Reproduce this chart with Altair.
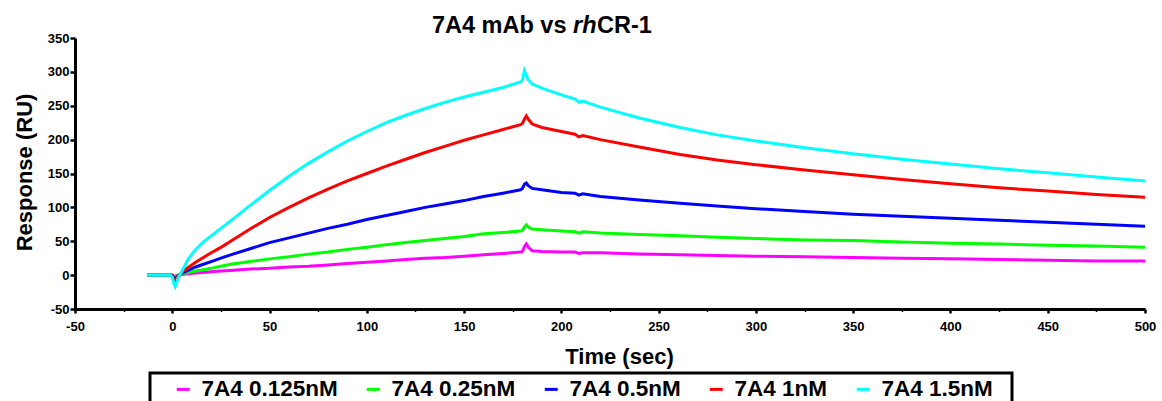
import altair as alt
import pandas as pd

# Sensorgram sample times (s): baseline, injection, association (to 180 s), dissociation
time_s = [-13, -6, -1, 0, 1, 1.5, 2, 3, 5, 8,
          12, 16, 20, 25, 30, 40, 50, 60, 70, 80,
          90, 100, 110, 120, 130, 140, 150, 160, 170, 179,
          180, 181, 182, 183, 185, 190, 200, 207, 209, 211,
          220, 240, 261, 280, 300, 325, 350, 375, 400, 425,
          450, 475, 500]

series_names = ["7A4 0.125nM", "7A4 0.25nM", "7A4 0.5nM", "7A4 1nM", "7A4 1.5nM"]
series_colors = ["#FF00FF", "#00FF00", "#0000FF", "#FF0000", "#00FFFF"]

# Response (RU) for each concentration
resp_0125 = [0, 0, 0, 0, -2, -3, -1, 0, 1, 2,
             3, 4, 5, 6, 7, 9, 10, 12, 13, 15,
             17, 19, 21, 23, 25, 26, 28, 30, 32, 34,
             35, 42, 46, 41, 36, 35, 34, 34, 32, 33,
             33, 31, 30, 29, 28, 27, 26, 25, 24, 23,
             22, 21, 21]
resp_025 = [0, 0, 0, 0, -3, -4, -2, 0, 2, 4,
            6, 8, 10, 13, 16, 20, 24, 27, 31, 34,
            38, 41, 45, 48, 51, 54, 57, 61, 63, 65,
            66, 71, 74, 71, 68, 67, 65, 64, 62, 64,
            62, 60, 58, 56, 54, 52, 51, 49, 47, 46,
            44, 43, 41]
resp_05 = [0, 0, 0, 0, -5, -6, -4, -1, 3, 7,
           12, 16, 20, 25, 30, 39, 48, 55, 62, 69,
           75, 82, 88, 94, 100, 105, 110, 116, 121, 126,
           128, 134, 136, 132, 128, 126, 122, 121, 118, 120,
           116, 111, 106, 102, 98, 94, 90, 87, 84, 81,
           78, 75, 72]
resp_1 = [0, 0, 0, -1, -8, -10, -7, -2, 4, 11,
          19, 26, 33, 41, 50, 68, 85, 100, 114, 127,
          139, 150, 161, 171, 181, 190, 199, 207, 215, 222,
          224, 230, 235, 230, 223, 218, 212, 208, 204, 206,
          200, 189, 178, 170, 163, 155, 148, 141, 135, 129,
          124, 119, 115]
resp_15 = [0, 0, 0, -3, -14, -17, -13, -4, 6, 23,
           38, 49, 58, 69, 80, 103, 125, 146, 165, 182,
           198, 212, 225, 236, 246, 255, 263, 270, 277, 285,
           288, 302, 295, 288, 282, 276, 266, 260, 255, 257,
           248, 232, 218, 207, 198, 188, 179, 171, 164, 157,
           151, 145, 139]

x_ticks = list(range(-50, 501, 25))
y_ticks = list(range(-50, 351, 50))

FONT = "Liberation Sans, Arial, sans-serif"

rows = []
for name, values in zip(series_names, [resp_0125, resp_025, resp_05, resp_1, resp_15]):
    for t, v in zip(time_s, values):
        rows.append({"time": t, "response": v, "series": name})
df = pd.DataFrame(rows)

x_axis = alt.Axis(
    values=x_ticks,
    labelExpr="datum.value % 50 === 0 ? '' + datum.value : ''",
    title="Time (sec)",
    titleFont=FONT, titleFontSize=22, titleFontWeight="bold",
    titleX=544, titleY=54, titleBaseline="alphabetic", titleAlign="center",
    labelFont=FONT, labelFontSize=13, labelFontWeight="bold", labelColor="black",
    labelPadding=7, labelFlush=False, labelOverlap=False,
    domainColor="black", domainWidth=3,
    tickColor="black",
    tickSize={"condition": {"test": "datum.value % 50 === 0", "value": 4}, "value": 2.5},
    tickWidth={"condition": {"test": "datum.value % 50 === 0", "value": 2.5}, "value": 1.5},
    grid=False,
)

y_axis = alt.Axis(
    values=y_ticks,
    labelExpr="'' + datum.value",
    title="Response (RU)",
    titleFont=FONT, titleFontSize=22, titleFontWeight="bold",
    titleX=-44, titleY=134, titleAngle=270, titleBaseline="alphabetic", titleAlign="center",
    labelFont=FONT, labelFontSize=13, labelFontWeight="bold", labelColor="black",
    labelPadding=1, labelFlush=False, labelOverlap=False,
    domainColor="black", domainWidth=3,
    tickColor="black", tickSize=5, tickWidth=2.5,
    grid=False,
)

legend = alt.Legend(
    title=None, orient="none", legendX=97, legendY=340,
    direction="horizontal", columns=5,
    symbolType="stroke", symbolSize=169, symbolStrokeWidth=3,
    labelFont=FONT, labelFontSize=22.5, labelFontWeight="bold", labelColor="black",
    labelOffset=7, labelLimit=400, columnPadding=22, padding=0,
)

lines = alt.Chart(df).mark_line(strokeWidth=3).encode(
    x=alt.X("time:Q", scale=alt.Scale(domain=[-50, 500], nice=False, zero=False), axis=x_axis),
    y=alt.Y("response:Q", scale=alt.Scale(domain=[-50, 350], nice=False), axis=y_axis),
    color=alt.Color("series:N", sort=series_names,
                    scale=alt.Scale(domain=series_names, range=series_colors),
                    legend=legend),
)

one = pd.DataFrame({"k": [0]})

# Legend frame
frame = alt.Chart(one).mark_rect(filled=False, stroke="black", strokeWidth=3).encode(
    x=alt.value(75), x2=alt.value(937), y=alt.value(335), y2=alt.value(400),
)

# Title with the italic "rh" prefix; the word gap is left between the first two pieces
title_size = 23.5
title_y = -5
rh_x = 498
t1 = alt.Chart(one).mark_text(font=FONT, fontSize=title_size, fontWeight="bold",
                              align="right", baseline="alphabetic", color="black").encode(
    x=alt.value(rh_x - 6.5), y=alt.value(title_y), text=alt.value("7A4 mAb vs"))
t2 = alt.Chart(one).mark_text(font=FONT, fontSize=title_size, fontWeight="bold", fontStyle="italic",
                              align="left", baseline="alphabetic", color="black").encode(
    x=alt.value(rh_x), y=alt.value(title_y), text=alt.value("rh"))
t3 = alt.Chart(one).mark_text(font=FONT, fontSize=title_size, fontWeight="bold",
                              align="left", baseline="alphabetic", color="black").encode(
    x=alt.value(rh_x + 24), y=alt.value(title_y), text=alt.value("CR-1"))

chart = alt.layer(lines, frame, t1, t2, t3).properties(
    width=1070, height=271,
    autosize=alt.AutoSizeParams(type="none"),
    padding={"left": 75, "top": 38, "right": 17, "bottom": 92},
    background="white",
).configure_view(strokeWidth=0)

chart.save("out.html", embed_options={"renderer": "svg", "actions": False})
